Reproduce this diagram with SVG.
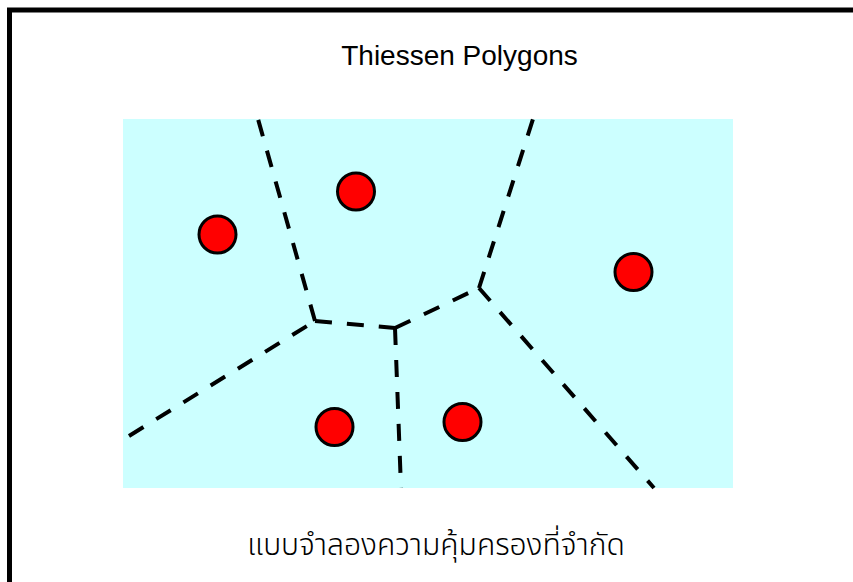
<svg xmlns="http://www.w3.org/2000/svg" width="853" height="582" viewBox="0 0 853 582">
  <style>
    .border { fill: #ffffff; stroke: #000000; stroke-width: 5; }
    .area { fill: #CCFFFF; stroke: none; }
    .edge { fill: none; stroke: #000000; stroke-width: 4; stroke-dasharray: 17 15; stroke-linecap: butt; }
    .site { fill: #FF0000; stroke: #000000; stroke-width: 3; }
    .title { font-family: "Liberation Sans", Arial, sans-serif; font-size: 28px; fill: #000000; }
    .caption { font-family: "Noto Sans Thai", "Noto Sans", "DejaVu Sans", sans-serif; font-size: 30px; font-weight: 300; fill: #000000; }
  </style>
  <rect x="0" y="0" width="853" height="582" fill="#ffffff"/>
  <rect class="border" x="9.5" y="10" width="900" height="620"/>
  <g id="title"><text class="title" x="459.5" y="65" text-anchor="middle">Thiessen Polygons</text></g>
  <g id="area"><rect class="area" x="123" y="119" width="610" height="369"/></g>
  <g id="connectors">
    <line class="edge" x1="315" y1="321" x2="258" y2="119"/>
    <line class="edge" x1="479" y1="288" x2="533" y2="119"/>
    <line class="edge" x1="129" y1="436" x2="315" y2="321"/>
    <line class="edge" x1="395" y1="328" x2="401" y2="488"/>
    <line class="edge" x1="479" y1="288" x2="654" y2="488"/>
    <line class="edge" x1="315" y1="321" x2="395" y2="328"/>
    <line class="edge" x1="395" y1="328" x2="479" y2="288"/>
  </g>
  <g id="site1"><circle class="site" cx="217.5" cy="234.5" r="18.5"/></g>
  <g id="site2"><circle class="site" cx="356" cy="191.5" r="18.5"/></g>
  <g id="site3"><circle class="site" cx="633.5" cy="272" r="18.5"/></g>
  <g id="site4"><circle class="site" cx="334.5" cy="427" r="18.5"/></g>
  <g id="site5"><circle class="site" cx="462.5" cy="422" r="18.5"/></g>
  <g id="caption"><text class="caption" x="436" y="555" text-anchor="middle">แบบจำลองความคุ้มครองที่จำกัด</text></g>
</svg>
